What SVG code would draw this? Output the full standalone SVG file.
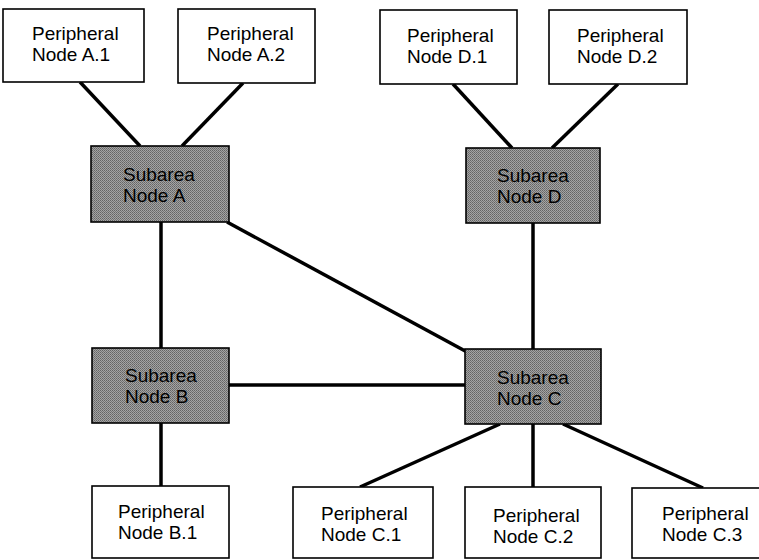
<svg xmlns="http://www.w3.org/2000/svg" width="759" height="560" viewBox="0 0 759 560">
<style>
.per{fill:#fff;stroke:#000;stroke-width:1.6}
.sub{fill:url(#ht);stroke:#000;stroke-width:1.6}
.t{font-family:"Liberation Sans",Arial,sans-serif;font-size:19px;fill:#000}
.c line{stroke:#000;stroke-width:3.5;stroke-linecap:butt}
</style>
<defs>
<pattern id="ht" width="2" height="2" patternUnits="userSpaceOnUse">
<rect width="2" height="2" fill="#a4a4a4"/>
<rect width="1" height="1" fill="#646464"/>
<rect x="1" y="1" width="1" height="1" fill="#747474"/>
</pattern>
</defs>
<rect width="759" height="560" fill="#fff"/>
<g class="c" id="connectors">
<line x1="80" y1="82" x2="140" y2="146"/>
<line x1="243" y1="83" x2="182" y2="146"/>
<line x1="453" y1="84" x2="512" y2="148"/>
<line x1="618" y1="84" x2="552" y2="148"/>
<line x1="161" y1="222" x2="161" y2="348"/>
<line x1="227" y1="222" x2="467" y2="352"/>
<line x1="533" y1="223" x2="533" y2="349"/>
<line x1="229" y1="385" x2="465" y2="385"/>
<line x1="161" y1="423" x2="161" y2="486"/>
<line x1="500" y1="424" x2="360" y2="487"/>
<line x1="533" y1="424" x2="533" y2="487"/>
<line x1="563" y1="424" x2="703" y2="488"/>
</g>
<g id="pA1"><rect class="per" x="3" y="9" width="141" height="73"/><text class="t" x="32" y="40">Peripheral</text><text class="t" x="32" y="61">Node A.1</text></g>
<g id="pA2"><rect class="per" x="178" y="9" width="137" height="74"/><text class="t" x="207" y="40">Peripheral</text><text class="t" x="207" y="61">Node A.2</text></g>
<g id="pD1"><rect class="per" x="380" y="10" width="137" height="74"/><text class="t" x="407" y="42">Peripheral</text><text class="t" x="407" y="63">Node D.1</text></g>
<g id="pD2"><rect class="per" x="549" y="10" width="138" height="74"/><text class="t" x="577" y="42">Peripheral</text><text class="t" x="577" y="63">Node D.2</text></g>
<g id="sA"><rect class="sub" x="91" y="146" width="138" height="76"/><text class="t" x="123" y="181">Subarea</text><text class="t" x="123" y="202">Node A</text></g>
<g id="sD"><rect class="sub" x="466" y="148" width="134" height="75"/><text class="t" x="497" y="182">Subarea</text><text class="t" x="497" y="203">Node D</text></g>
<g id="sB"><rect class="sub" x="92" y="348" width="137" height="75"/><text class="t" x="125" y="382">Subarea</text><text class="t" x="125" y="403">Node B</text></g>
<g id="sC"><rect class="sub" x="465" y="349" width="136" height="75"/><text class="t" x="497" y="384">Subarea</text><text class="t" x="497" y="405">Node C</text></g>
<g id="pB1"><rect class="per" x="92" y="486" width="137" height="72"/><text class="t" x="118" y="518">Peripheral</text><text class="t" x="118" y="539">Node B.1</text></g>
<g id="pC1"><rect class="per" x="293" y="487" width="140" height="71"/><text class="t" x="321" y="520">Peripheral</text><text class="t" x="321" y="541">Node C.1</text></g>
<g id="pC2"><rect class="per" x="465" y="487" width="136" height="71"/><text class="t" x="493" y="522">Peripheral</text><text class="t" x="493" y="543">Node C.2</text></g>
<g id="pC3"><rect class="per" x="632" y="488" width="135" height="70"/><text class="t" x="662" y="520">Peripheral</text><text class="t" x="662" y="541">Node C.3</text></g>
</svg>
